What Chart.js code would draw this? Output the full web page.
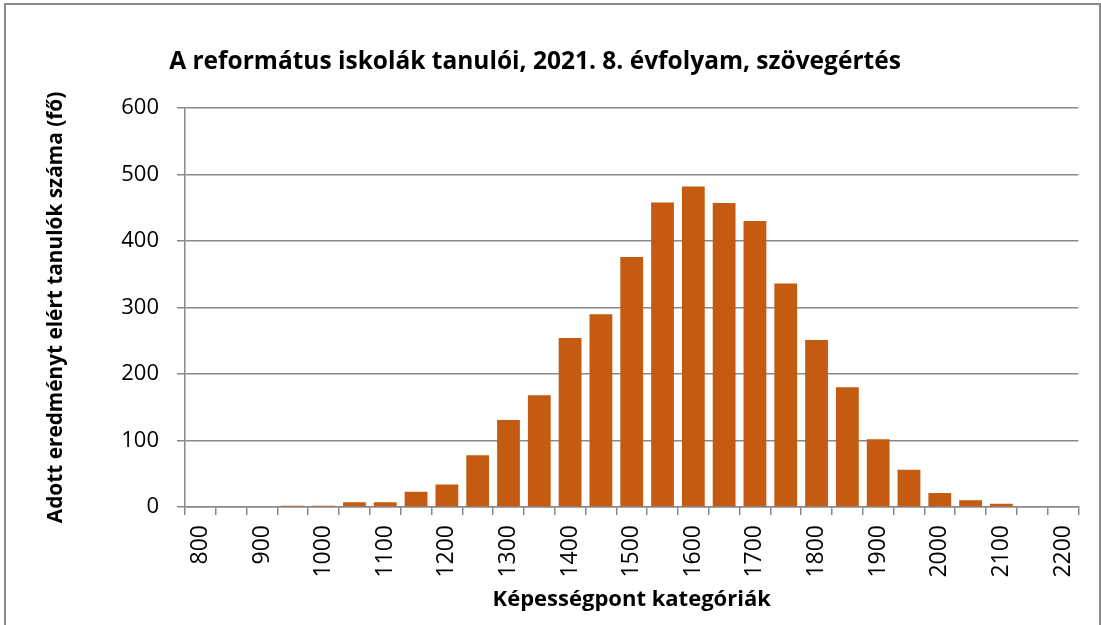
<!DOCTYPE html>
<html>
<head>
<meta charset="utf-8">
<script src="https://cdn.jsdelivr.net/npm/chart.js@4"></script>
<style>
  html, body { margin: 0; padding: 0; background: #fff; overflow: hidden; }
  #frame { position: absolute; left: 4px; top: 3px; width: 1093px; height: 640px; border: 2px solid #898989; }
  #wrap { position: absolute; left: 0; top: 0; width: 1101px; height: 625px; }
</style>
</head>
<body>
<div id="frame"></div>
<div id="wrap"><canvas id="chart" width="1101" height="625"></canvas></div>
<script>
const chartTitle = 'A református iskolák tanulói, 2021. 8. évfolyam, szövegértés';
const xTitle = 'Képességpont kategóriák';
const yTitle = 'Adott eredményt elért tanulók száma (fő)';

// score categories, 800..2200 step 50
const categories = ['800','850','900','950','1000','1050','1100','1150','1200','1250','1300','1350','1400','1450','1500',
  '1550','1600','1650','1700','1750','1800','1850','1900','1950','2000','2050','2100','2150','2200'];
// number of students per category
const students = [0,0,0,2,2,7,7,23,34,78,131,168,254,290,376,
  458,482,457,430,336,251,180,102,56,21,10,5,0,0];

const yMin = 0, yMax = 600, yStep = 100;

const font = 'Open Sans';
const grey = '#898989';

// draws the main title at a fixed spot (it is not centred on the plot in the original)
const titlePlugin = {
  id: 'fixedTitle',
  afterDraw(chart){
    const c = chart.ctx;
    c.save();
    c.font = 'bold 24.5px "' + font + '"';
    c.fillStyle = '#000';
    c.textAlign = 'center';
    c.textBaseline = 'alphabetic';
    c.fillText(chartTitle, 535, 69);
    c.restore();
  }
};

const ctx = document.getElementById('chart').getContext('2d');
new Chart(ctx, {
  type: 'bar',
  data: {
    labels: categories,
    datasets: [{
      data: students,
      backgroundColor: '#C55A11',
      borderWidth: 0,
      barPercentage: 0.74,
      categoryPercentage: 1
    }]
  },
  options: {
    responsive: false,
    animation: false,
    layout: { padding: { left: 44, top: 108, right: 22, bottom: 12 } },
    plugins: { legend: { display: false }, tooltip: { enabled: false }, title: { display: false } },
    scales: {
      x: {
        afterFit(scale){ scale.height = 106; },
        grid: { display: true, drawOnChartArea: false, drawTicks: true, tickLength: 8, color: grey, lineWidth: 1.5 },
        border: { color: grey, width: 1.5 },
        ticks: {
          autoSkip: false, minRotation: 90, maxRotation: 90, padding: 10,
          color: '#000', font: { family: font, size: 23 },
          callback(val, i){ return i % 2 === 0 ? categories[i] : ''; }
        },
        title: { display: true, text: xTitle, color: '#000', padding: 0, font: { family: font, size: 22, weight: 'bold' } }
      },
      y: {
        min: yMin, max: yMax,
        afterFit(scale){ scale.width = 141; },
        grid: { color: grey, lineWidth: 1.5, tickLength: 8 },
        border: { color: grey, width: 1.5 },
        ticks: { stepSize: yStep, padding: 18, color: '#000', font: { family: font, size: 22 } },
        title: { display: true, text: yTitle, color: '#000', padding: 0, font: { family: font, size: 20.8, weight: 'bold' } }
      }
    }
  },
  plugins: [titlePlugin]
});
</script>
</body>
</html>
